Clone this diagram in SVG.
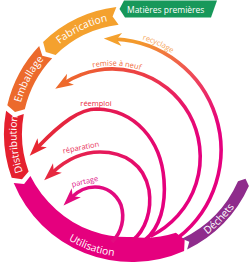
<svg xmlns="http://www.w3.org/2000/svg" width="250" height="263" viewBox="0 0 250 263">
<defs>
<style>
.lbl{fill:#fff;font-family:"Open Sans","Noto Sans",sans-serif;font-size:10.3px}
.arc{fill:none;stroke-width:3.6}
.sm{font-family:"Open Sans","Noto Sans",sans-serif;font-size:7.5px}
</style>
<linearGradient id="gRec" gradientUnits="userSpaceOnUse" x1="140" y1="40" x2="215" y2="130"><stop offset="0" stop-color="#f39a2c"/><stop offset="0.5" stop-color="#ef4d55"/><stop offset="1" stop-color="#e5007e"/></linearGradient>
<linearGradient id="gRem" gradientUnits="userSpaceOnUse" x1="60" y1="85" x2="195" y2="150"><stop offset="0" stop-color="#ee6a2c"/><stop offset="0.5" stop-color="#ec3a48"/><stop offset="1" stop-color="#e5007e"/></linearGradient>
<linearGradient id="gReem" gradientUnits="userSpaceOnUse" x1="40" y1="140" x2="165" y2="190"><stop offset="0" stop-color="#e52a36"/><stop offset="1" stop-color="#e5007e"/></linearGradient>
<linearGradient id="gRep" gradientUnits="userSpaceOnUse" x1="50" y1="170" x2="150" y2="215"><stop offset="0" stop-color="#e62944"/><stop offset="1" stop-color="#e5007e"/></linearGradient>
<marker id="mRec" markerUnits="userSpaceOnUse" markerWidth="20" markerHeight="16" refX="6" refY="8" orient="auto" overflow="visible"><path d="M18,8 L0,1.5 L5,8 L0,14.5 Z" fill="#f4a12e"/></marker>
<marker id="mRem" markerUnits="userSpaceOnUse" markerWidth="20" markerHeight="16" refX="6" refY="8" orient="auto" overflow="visible"><path d="M18,8 L0,1.5 L5,8 L0,14.5 Z" fill="#ee6a2c"/></marker>
<marker id="mReem" markerUnits="userSpaceOnUse" markerWidth="20" markerHeight="16" refX="6" refY="8" orient="auto" overflow="visible"><path d="M18,8 L0,1.5 L5,8 L0,14.5 Z" fill="#e72731"/></marker>
<marker id="mRep" markerUnits="userSpaceOnUse" markerWidth="20" markerHeight="16" refX="6" refY="8" orient="auto" overflow="visible"><path d="M18,8 L0,1.5 L5,8 L0,14.5 Z" fill="#e6283f"/></marker>
<marker id="mPar" markerUnits="userSpaceOnUse" markerWidth="20" markerHeight="16" refX="6" refY="8" orient="auto" overflow="visible"><path d="M18,8 L0,1.5 L5,8 L0,14.5 Z" fill="#e20a7f"/></marker>
<path id="tpFab" d="M36.8,68.6 A115.5,115.5 0 0,1 141.1,18.9"/>
<path id="tpEmb" d="M16.6,138 A115.5,115.5 0 0,1 70.8,36.05"/>
<path id="tpDis" d="M37.4,200.2 A115.5,115.5 0 0,1 27.3,85.2"/>
<path id="tpUti" d="M37.8,213.9 A123.5,123.5 0 0,0 154.1,255.5"/>
<path id="tpDec" d="M166,254.8 A125.5,125.5 0 0,0 253.6,165"/>
<path id="tpRec" d="M118.8,35.3 A115,115 0 0,1 190.5,67.8"/>
<path id="tpRem" d="M85.25,69.5 A91.5,91.5 0 0,1 147.75,72.8"/>
</defs>

<g id="matieres">
<path d="M124,0.5 L217,0.5 L211,17.5 L125,17.5 L119.5,9 Z" fill="#17985a"/>
<text x="127" y="12.5" class="lbl" style="font-size:8.5px">Matières premières</text>
</g>
<g id="fabrication">
<path d="M116.4,6.95 A128,128 0 0,0 43.1,41.9 L45.8,51.9 L55.6,54.9 A110,110 0 0,1 118.6,24.8 L112.6,16.6 Z" fill="#f4a12e"/>
<text class="lbl"><textPath href="#tpFab" startOffset="50%" text-anchor="middle">Fabrication</textPath></text>
</g>
<g id="emballage">
<path d="M39.15,45.9 A128,128 0 0,0 7.3,105.2 L15,112.1 L24.8,109.3 A110,110 0 0,1 52.2,58.3 L42.3,55.8 Z" fill="#ec6a2c"/>
<text class="lbl"><textPath href="#tpEmb" startOffset="50%" text-anchor="middle">Emballage</textPath></text>
</g>
<g id="distribution">
<path d="M6.1,110.7 A128,128 0 0,0 11.7,177.8 L22,179.3 L28.6,171.6 A110,110 0 0,1 23.8,114 L14.2,117.2 Z" fill="#e5202e"/>
<text class="lbl"><textPath href="#tpDis" startOffset="50%" text-anchor="middle">Distribution</textPath></text>
</g>
<g id="utilisation">
<path d="M13.7,183 A128,128 0 0,0 184.1,250.9 L184.7,239.6 L175.9,232.7 A104,104 0 0,1 132,237 A106,106 0 0,1 56.3,209.7 A110,110 0 0,1 30.4,176.1 L24.1,184.1 Z" fill="#e5007e"/>
<text class="lbl"><textPath href="#tpUti" startOffset="50%" text-anchor="middle">Utilisation</textPath></text>
</g>
<g id="dechets">
<path d="M187.1,249.5 A128,128 0 0,0 248.9,186.1 L245.5,178.7 L238,181.2 A116,116 0 0,1 181.9,238.7 L189.3,241.7 Z" fill="#8f2c8c"/>
<text class="lbl"><textPath href="#tpDec" startOffset="50%" text-anchor="middle">Déchets</textPath></text>
</g>

<g id="connectors">
<path class="arc" stroke="url(#gRec)" marker-end="url(#mRec)" d="M178.3,237.5 A111,111 0 0,0 115.8,39.15"/>
<path class="arc" stroke="url(#gRem)" marker-end="url(#mRem)" d="M150.6,236.1 A88,88 0 1,0 65.4,82.4"/>
<path class="arc" stroke="url(#gReem)" marker-end="url(#mReem)" d="M145,240 C160,228 166,205 164,180 C161,140 135,110 97,109 C80,109 62,122 38,147"/>
<path class="arc" stroke="url(#gRep)" marker-end="url(#mRep)" d="M132,241 C146,230 152,210 149,190 C144,164 124,152 100,152 C82,152 66,160 53,172"/>
<path class="arc" stroke="#e20a7f" marker-end="url(#mPar)" d="M112,242 C122,232 125,218 121,205 C116,193 106,187 95,187 C86,187 78,191 72,197"/>
<text class="sm" fill="#f5a65a"><textPath href="#tpRec" startOffset="50%" text-anchor="middle">recyclage</textPath></text>
<text class="sm" fill="#f06a3a"><textPath href="#tpRem" startOffset="50%" text-anchor="middle">remise à neuf</textPath></text>
<text class="sm" fill="#e8283c" x="96" y="106" text-anchor="middle">réemploi</text>
<text class="sm" fill="#e8305a" x="81" y="150" text-anchor="middle" transform="rotate(-11 81 148)">réparation</text>
<text class="sm" fill="#e0208a" x="85" y="184" text-anchor="middle" transform="rotate(-13 85 182)">partage</text>
</g>
</svg>
